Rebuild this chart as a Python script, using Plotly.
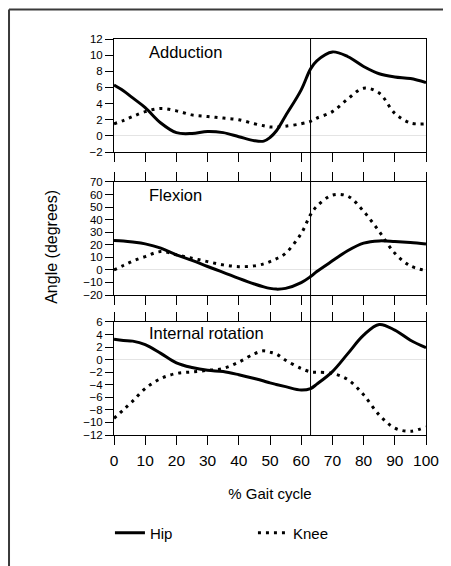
import plotly.graph_objects as go
from plotly.subplots import make_subplots

# ---- data ----
gait = [0, 3, 6, 10, 15, 20, 25, 30, 35, 40, 45, 48, 50, 52, 55, 60, 63, 65, 70, 75, 80, 85, 90, 95, 100]

hip_adduction = [6.3, 5.6, 4.7, 3.5, 1.6, 0.4, 0.3, 0.55, 0.4, -0.1, -0.6, -0.65, -0.2, 0.6, 2.5,
                 5.7, 8.3, 9.3, 10.4, 9.8, 8.6, 7.7, 7.3, 7.1, 6.6]
knee_adduction = [1.5, 1.9, 2.4, 3.0, 3.4, 3.1, 2.6, 2.4, 2.2, 2.0, 1.5, 1.25, 1.1, 1.1, 1.2,
                  1.5, 1.8, 2.2, 3.0, 4.6, 5.9, 5.3, 2.8, 1.6, 1.5]

hip_flexion = [23.4, 23.0, 22.2, 20.7, 17.3, 12.0, 7.6, 2.7, -1.9, -6.7, -11.2, -13.5, -14.7,
               -15.3, -14.7, -10.1, -5.3, -1.3, 7.2, 15.4, 21.3, 23.1, 22.6, 21.8, 20.7]
knee_flexion = [0.0, 3.5, 7.0, 10.6, 14.6, 12.0, 9.3, 6.6, 4.0, 2.6, 3.2, 4.8, 6.6, 8.8, 13.3,
                29.0, 44.0, 50.6, 59.6, 58.6, 46.6, 30.6, 13.3, 3.2, -0.5]

hip_rotation = [3.25, 3.05, 2.95, 2.4, 1.0, -0.5, -1.25, -1.7, -1.9, -2.4, -3.0, -3.4, -3.7,
                -3.95, -4.3, -4.85, -4.6, -3.9, -1.9, 1.0, 3.9, 5.6, 4.7, 3.1, 1.9]
knee_rotation = [-9.35, -8.0, -6.6, -4.6, -3.0, -2.2, -1.95, -1.7, -1.4, -0.4, 0.95, 1.4, 1.2,
                 0.9, -0.1, -1.4, -1.95, -2.0, -2.2, -3.2, -5.6, -8.8, -10.9, -11.4, -10.7]

toe_off = 63  # end of stance phase (% gait cycle)

panel_titles = ["Adduction", "Flexion", "Internal rotation"]
y_ranges = [[-2, 12], [-20, 70], [-12, 6]]
y_dticks = [2, 10, 2]
x_ticks = list(range(0, 101, 10))

FONT = "Liberation Sans, Arial, sans-serif"

fig = make_subplots(rows=3, cols=1, shared_xaxes=False, vertical_spacing=0.0)

pairs = [(hip_adduction, knee_adduction), (hip_flexion, knee_flexion), (hip_rotation, knee_rotation)]
for i, (hip, knee) in enumerate(pairs):
    r = i + 1
    fig.add_trace(go.Scatter(x=gait, y=hip, mode="lines", name="Hip",
                             line=dict(color="black", width=3, shape="spline"),
                             showlegend=(i == 0), legendgroup="hip"), row=r, col=1)
    fig.add_trace(go.Scatter(x=gait, y=knee, mode="lines", name="Knee",
                             line=dict(color="black", width=3, shape="spline", dash="3px,5px"),
                             showlegend=(i == 0), legendgroup="knee"), row=r, col=1)

# domains (pixel layout: plot area y 39..435)
domains = [[0.7146, 1.0], [0.3535, 0.6389], [0.0, 0.2854]]
for i in range(3):
    r = i + 1
    fig.update_yaxes(row=r, col=1, domain=domains[i], range=y_ranges[i], dtick=y_dticks[i],
                     tick0=y_ranges[i][0],
                     showgrid=False, zeroline=True, zerolinecolor="#e4e4e4", zerolinewidth=1,
                     showline=True, linecolor="black", linewidth=1, mirror=True,
                     ticks="outside", ticklen=8, tickcolor="black", tickwidth=1,
                     tickfont=dict(family=FONT, size=11.5, color="black"))
    fig.update_xaxes(row=r, col=1, range=[0, 100], tickvals=x_ticks,
                     showgrid=False, zeroline=False,
                     showline=True, linecolor="black", linewidth=1,
                     mirror=(True if i == 0 else "allticks"),
                     ticks="outside", ticklen=9, tickcolor="black", tickwidth=1,
                     showticklabels=(i == 2), ticklabelstandoff=2,
                     tickfont=dict(family=FONT, size=15.5, color="black"))
    fig.add_annotation(text=panel_titles[i], xref=f"x{'' if r == 1 else r} domain",
                       yref=f"y{'' if r == 1 else r} domain", x=0.105, y=1,
                       xanchor="left", yanchor="top", yshift=(-2 if i < 2 else 0),
                       showarrow=False, font=dict(family=FONT, size=16.5, color="black"))

fig.update_xaxes(row=3, col=1, title=dict(text="% Gait cycle", standoff=20,
                                          font=dict(family=FONT, size=15, color="black")))

# y-axis title shared by the three panels
fig.add_annotation(text="Angle (degrees)", xref="paper", yref="paper", x=-0.199, y=0.475,
                   textangle=-90, showarrow=False, xanchor="center", yanchor="middle",
                   font=dict(family=FONT, size=16, color="black"))

# vertical toe-off line across all panels
fig.add_shape(type="line", xref="x3", yref="paper", x0=toe_off, x1=toe_off, y0=0, y1=1,
              line=dict(color="black", width=1))

# outer frame (top and left edges)
fig.add_shape(type="line", xref="paper", yref="paper", x0=-0.3365, x1=1.2, y0=1.0745, y1=1.0745,
              line=dict(color="#3a3a3a", width=2))
fig.add_shape(type="line", xref="paper", yref="paper", x0=-0.3365, x1=-0.3365, y0=1.0745, y1=-0.4,
              line=dict(color="#3a3a3a", width=2))

# the page body adds an 8 px margin, so the figure is sized/margined to compensate
fig.update_layout(
    width=443, height=558,
    margin=dict(l=106, r=17, t=31, b=131),
    paper_bgcolor="white", plot_bgcolor="white",
    font=dict(family=FONT, color="black"),
    showlegend=True,
    legend=dict(orientation="h", x=-0.013, y=-0.2475, xanchor="left", yanchor="middle",
                font=dict(family=FONT, size=15, color="black"),
                entrywidth=98, entrywidthmode="pixels", bgcolor="rgba(0,0,0,0)"),
)

fig.write_html("out.html")
